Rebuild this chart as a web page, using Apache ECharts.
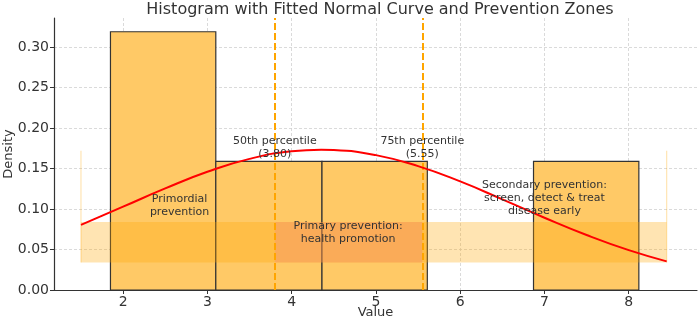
<!DOCTYPE html>
<html>
<head>
<meta charset="utf-8">
<script src="https://cdn.jsdelivr.net/npm/echarts@6/dist/echarts.min.js"></script>
<style>html,body{margin:0;padding:0;background:#fff}#c{width:700px;height:321px}</style>
</head>
<body>
<div id="c"></div>
<script>
// ---- data ----
const binEdges = [1.85, 3.10, 4.36, 5.61, 6.87, 8.12];
const binDensity = [0.319, 0.159, 0.159, 0.0, 0.159];

const curveX = [1.5, 2.0, 2.5, 3.0, 3.5, 4.0, 4.35, 4.5, 5.0, 5.5, 6.0, 6.5, 7.0, 7.5, 8.0, 8.45];
const curveY = [0.0804, 0.1029, 0.1255, 0.1460, 0.1620, 0.1714, 0.1734, 0.1730, 0.1666, 0.1530, 0.1341, 0.1120, 0.0893, 0.0679, 0.0492, 0.0354];

const percentileValues = [3.80, 5.55];
const percentileNames = ['50th percentile', '75th percentile'];

const bandX = [1.5, 8.45];
const bandY = [0.034, 0.084];
const primaryX = [3.80, 5.55];
const edgeLineY = [0.034, 0.172];

const zoneTexts = ['Primordial\nprevention', 'Primary prevention:\nhealth promotion', 'Secondary prevention:\nscreen, detect & treat\ndisease early'];
const zoneTextX = [2.67, 4.67, 7.0];
const zoneTextY = [0.1045, 0.071, 0.114];

const xTicks = [2, 3, 4, 5, 6, 7, 8];
const yTicks = [0, 0.05, 0.10, 0.15, 0.20, 0.25, 0.30];

// ---- build ----
const FONT = 'DejaVu Sans';
const barData = binDensity.map((d, i) => [binEdges[i], binEdges[i + 1], d]).filter(d => d[2] > 0);
const curveData = curveX.map((x, i) => [x, curveY[i]]);
const pctTextData = percentileValues.map((v, i) => [v, 0.176, percentileNames[i] + '\n(' + v.toFixed(2) + ')']);
const zoneTextData = zoneTexts.map((t, i) => [zoneTextX[i], zoneTextY[i], t]);

const chart = echarts.init(document.getElementById('c'), null, {renderer: 'canvas'});
chart.setOption({
  animation: false,
  backgroundColor: '#fff',
  title: {
    text: 'Histogram with Fitted Normal Curve and Prevention Zones',
    left: 375, top: -3, textAlign: 'center',
    textStyle: {fontFamily: FONT, fontSize: 16, fontWeight: 'normal', color: '#333'}
  },
  grid: {left: 54, right: 3, top: 18, bottom: 31, containLabel: false, outerBoundsMode: 'none'},
  xAxis: {
    type: 'value', min: 1.18, max: 8.81,
    name: 'Value', nameLocation: 'middle', nameGap: 16, nameMoveOverlap: false,
    nameTextStyle: {fontFamily: FONT, fontSize: 13, color: '#333'},
    axisLine: {show: true, onZero: false, lineStyle: {color: '#333', width: 1.2}},
    axisTick: {show: true, length: 4, customValues: xTicks, lineStyle: {color: '#333'}},
    axisLabel: {customValues: xTicks, fontFamily: FONT, fontSize: 14, color: '#333', margin: 5},
    splitLine: {show: true, lineStyle: {color: '#d0d0d0', type: [3, 2], width: 0.8}}
  },
  yAxis: {
    type: 'value', min: 0, max: 0.336,
    name: 'Density', nameLocation: 'middle', nameGap: 39, nameMoveOverlap: false,
    nameTextStyle: {fontFamily: FONT, fontSize: 13, color: '#333'},
    axisLine: {show: true, lineStyle: {color: '#333', width: 1.2}},
    axisTick: {show: true, length: 4, customValues: yTicks, lineStyle: {color: '#333'}},
    axisLabel: {customValues: yTicks, fontFamily: FONT, fontSize: 14, color: '#333', margin: 5,
      formatter: v => v.toFixed(2)},
    splitLine: {show: true, lineStyle: {color: '#d0d0d0', type: [3, 2], width: 0.8}}
  },
  series: [
    {
      type: 'custom', z: 2,
      data: barData,
      renderItem: (params, api) => {
        const p0 = api.coord([api.value(0), api.value(2)]);
        const p1 = api.coord([api.value(1), 0]);
        return {type: 'rect', shape: {x: p0[0], y: p0[1], width: p1[0] - p0[0], height: p1[1] - p0[1]},
          style: {fill: '#FFC966', stroke: '#333', lineWidth: 1.2}};
      }
    },
    {
      type: 'custom', z: 3, silent: true,
      data: [[bandX[0], bandX[1], bandY[0], bandY[1], 'rgba(255,165,0,0.3)'],
             [primaryX[0], primaryX[1], bandY[0], bandY[1], 'rgba(240,128,128,0.3)']],
      renderItem: (params, api) => {
        const p0 = api.coord([api.value(0), api.value(3)]);
        const p1 = api.coord([api.value(1), api.value(2)]);
        return {type: 'rect', shape: {x: p0[0], y: p0[1], width: p1[0] - p0[0], height: p1[1] - p0[1]},
          style: {fill: api.value(4)}};
      }
    },
    {
      type: 'custom', z: 3, silent: true,
      data: bandX.map(x => [x, edgeLineY[0], edgeLineY[1]]),
      renderItem: (params, api) => {
        const p0 = api.coord([api.value(0), api.value(1)]);
        const p1 = api.coord([api.value(0), api.value(2)]);
        return {type: 'line', shape: {x1: p0[0], y1: p0[1], x2: p1[0], y2: p1[1]},
          style: {stroke: 'rgba(255,165,0,0.3)', lineWidth: 1.2}};
      }
    },
    {
      type: 'line', z: 4, data: [], silent: true,
      markLine: {
        symbol: 'none', silent: true, label: {show: false},
        lineStyle: {color: '#FFA500', type: [7, 3], width: 2},
        data: percentileValues.map(v => ({xAxis: v}))
      }
    },
    {
      type: 'line', z: 5, data: curveData, smooth: true, showSymbol: false,
      lineStyle: {color: '#FF0000', width: 2}
    },
    {
      type: 'custom', z: 6, silent: true,
      data: pctTextData.concat(zoneTextData),
      renderItem: (params, api) => {
        const p = api.coord([api.value(0), api.value(1)]);
        const d = params.dataIndex < pctTextData.length ? pctTextData[params.dataIndex] : zoneTextData[params.dataIndex - pctTextData.length];
        return {type: 'text', x: p[0], y: p[1],
          style: {text: d[2], fill: '#333', font: '11px "DejaVu Sans"', align: 'center', verticalAlign: 'middle', lineHeight: 13}};
      }
    }
  ]
});
</script>
</body>
</html>
